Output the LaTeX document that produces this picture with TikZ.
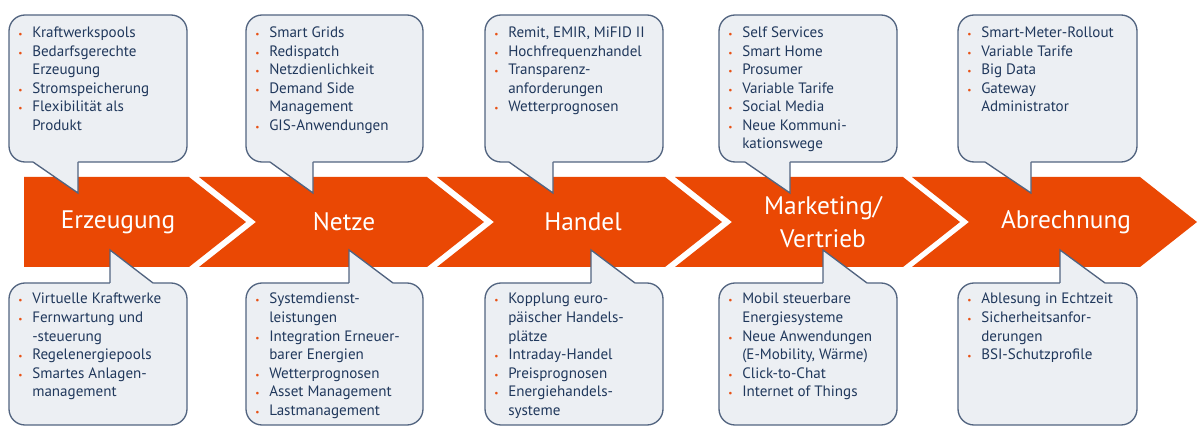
\documentclass[tikz,border=0pt]{standalone}
\usepackage{fontspec}
\setmainfont{PT Sans}
\definecolor{band}{RGB}{234,72,4}
\definecolor{bubfill}{RGB}{236,239,243}
\definecolor{bubline}{RGB}{82,100,128}
\definecolor{txt}{RGB}{32,56,92}
\definecolor{bulc}{RGB}{232,82,22}
\newcommand{\bl}{\makebox[10.5pt][l]{\textcolor{bulc}{\scriptsize •}}}
\newcommand{\blist}[1]{{\fontsize{11.3}{13.9}\selectfont\begin{tabular}[t]{@{}l@{}l@{}}#1\end{tabular}}}
\tikzset{
  chev/.style={fill=band, draw=none},
  bubbody/.style={fill=bubfill, draw=bubline, line width=1pt, rounded corners=12pt},
  bubtailfill/.style={fill=bubfill, draw=none},
  bubedge/.style={draw=bubline, line width=1pt, line join=miter},
  listtext/.style={anchor=base west, inner sep=0pt, text=txt},
  title/.style={text=white, font=\fontsize{19}{24.5}\selectfont, align=center, inner sep=0pt}
}
\begin{document}
\begin{tikzpicture}[x=0.75pt, y=-0.75pt]
\useasboundingbox (0,0) rectangle (1200,427);
% chevron band
\fill[chev] (24,177) -- (189,177) -- (246,222) -- (189,267) -- (24,267) -- cycle;
\foreach \L in {199,437,675,912}{
  \fill[chev] (\L,177) -- (\L+228,177) -- (\L+285,222) -- (\L+228,267) -- (\L,267) -- (\L+57,222) -- cycle;
}
% titles
\node[title] (t1) at (118,222) {Erzeugung};
\node[title] (t2) at (344,222) {Netze};
\node[title] (t3) at (583,222) {Handel};
\node[title] (t4) at (823,222) {Marketing/\\Vertrieb};
\node[title] (t5) at (1066,222) {Abrechnung};
% top bubbles: left, right, tail base left, tail x
\foreach \l/\r/\xa/\xb in {9/187/33/78, 246/423/270/313, 485/663/509/553, 719/897/745/790, 958/1137/985/1031}{
  \draw[bubbody] (\l,15) rectangle (\r,162);
  \fill[bubtailfill] (\xa,162) -- (\xb,193) -- (\xb,159) -- (\xa,159) -- cycle;
  \draw[bubedge] (\xa,162) -- (\xb,193) -- (\xb,162);
}
% bottom bubbles: left, right, tail x, tail base right
\foreach \l/\r/\xt/\xr in {9/187/110/153, 246/423/349/393, 485/663/591/635, 719/897/823/867, 958/1137/1060/1105}{
  \draw[bubbody] (\l,283) rectangle (\r,425);
  \fill[bubtailfill] (\xt,250) -- (\xt,286) -- (\xr,286) -- (\xr,283) -- cycle;
  \draw[bubedge] (\xt,283) -- (\xt,250) -- (\xr,283);
}
% top texts
\node[listtext] (a1) at (18,37.5) {\blist{\bl&Kraftwerkspools\\\bl&Bedarfsgerechte\\&Erzeugung\\\bl&Stromspeicherung\\\bl&Flexibilität als\\&Produkt}};
\node[listtext] (a2) at (255,37.5) {\blist{\bl&Smart Grids\\\bl&Redispatch\\\bl&Netzdienlichkeit\\\bl&Demand Side\\&Management\\\bl&GIS-Anwendungen}};
\node[listtext] (a3) at (494,37.5) {\blist{\bl&Remit, EMIR, MiFID II\\\bl&Hochfrequenzhandel\\\bl&Transparenz-\\&anforderungen\\\bl&Wetterprognosen}};
\node[listtext] (a4) at (728,37.5) {\blist{\bl&Self Services\\\bl&Smart Home\\\bl&Prosumer\\\bl&Variable Tarife\\\bl&Social Media\\\bl&Neue Kommuni-\\&kationswege}};
\node[listtext] (a5) at (967,37.5) {\blist{\bl&Smart-Meter-Rollout\\\bl&Variable Tarife\\\bl&Big Data\\\bl&Gateway\\&Administrator}};
% bottom texts
\node[listtext] (b1) at (18,304) {\blist{\bl&Virtuelle Kraftwerke\\\bl&Fernwartung und\\&-steuerung\\\bl&Regelenergiepools\\\bl&Smartes Anlagen-\\&management}};
\node[listtext] (b2) at (255,304) {\blist{\bl&Systemdienst-\\&leistungen\\\bl&Integration Erneuer-\\&barer Energien\\\bl&Wetterprognosen\\\bl&Asset Management\\\bl&Lastmanagement}};
\node[listtext] (b3) at (494,304) {\blist{\bl&Kopplung euro-\\&päischer Handels-\\&plätze\\\bl&Intraday-Handel\\\bl&Preisprognosen\\\bl&Energiehandels-\\&systeme}};
\node[listtext] (b4) at (728,304) {\blist{\bl&Mobil steuerbare\\&Energiesysteme\\\bl&Neue Anwendungen\\&(E-Mobility, Wärme)\\\bl&Click-to-Chat\\\bl&Internet of Things}};
\node[listtext] (b5) at (967,304) {\blist{\bl&Ablesung in Echtzeit\\\bl&Sicherheitsanfor-\\&derungen\\\bl&BSI-Schutzprofile}};
\end{tikzpicture}
\end{document}
